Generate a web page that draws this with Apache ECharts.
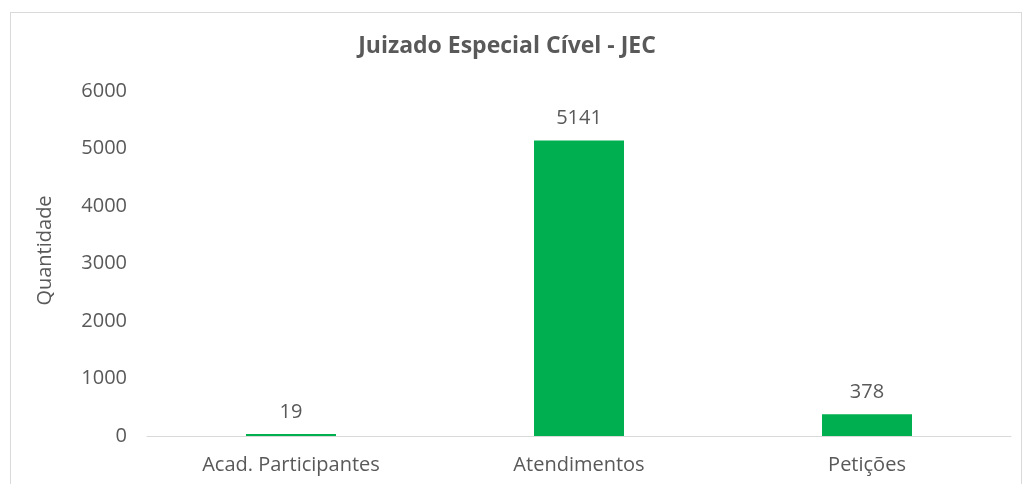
<!DOCTYPE html>
<html>
<head>
<meta charset="utf-8">
<script src="https://cdn.jsdelivr.net/npm/echarts@6/dist/echarts.min.js"></script>
<style>
  html, body { margin: 0; padding: 0; background: #fff; }
  #frame { position: absolute; left: 10px; top: 12px; width: 1010px; height: 500px; border: 1px solid #d9d9d9; }
  #chart { position: absolute; left: 0; top: 0; width: 1026px; height: 484px; }
</style>
</head>
<body>
<div id="frame"></div>
<div id="chart"></div>
<script>
const categories = ['Acad. Participantes', 'Atendimentos', 'Petições'];
const quantities = [19, 5141, 378];
const yTicks = [0, 1000, 2000, 3000, 4000, 5000, 6000];

const fontFamily = '"Open Sans", "Noto Sans", sans-serif';
const textColor = '#595959';

const chart = echarts.init(document.getElementById('chart'));

chart.setOption({
  animation: false,
  title: {
    text: 'Juizado Especial Cível - JEC',
    left: 502,
    top: 30,
    textAlign: 'center',
    textStyle: {
      fontFamily: fontFamily,
      fontSize: 23,
      fontWeight: 'bold',
      color: textColor
    }
  },
  grid: {
    left: 147,
    right: 15,
    top: 91,
    bottom: 48
  },
  xAxis: {
    type: 'category',
    data: categories,
    axisLine: { lineStyle: { color: '#d9d9d9' } },
    axisTick: { show: false },
    axisLabel: {
      margin: 19,
      fontFamily: fontFamily,
      fontSize: 20,
      color: textColor
    }
  },
  yAxis: {
    type: 'value',
    min: yTicks[0],
    max: yTicks[yTicks.length - 1],
    interval: 1000,
    name: 'Quantidade',
    nameLocation: 'middle',
    nameGap: 92,
    nameTextStyle: {
      fontFamily: fontFamily,
      fontSize: 20,
      color: textColor,
      padding: [0, 0, 0, 26]
    },
    axisLine: { show: false },
    axisTick: { show: false },
    splitLine: { show: false },
    axisLabel: {
      margin: 20,
      formatter: v => String(v),
      fontFamily: fontFamily,
      fontSize: 20,
      color: textColor
    }
  },
  series: [{
    type: 'bar',
    data: quantities,
    barWidth: 90,
    barMinHeight: 2,
    itemStyle: { color: '#00b050' },
    label: {
      show: true,
      position: 'top',
      distance: 12,
      fontFamily: fontFamily,
      fontSize: 20,
      color: textColor
    }
  }]
});
</script>
</body>
</html>
